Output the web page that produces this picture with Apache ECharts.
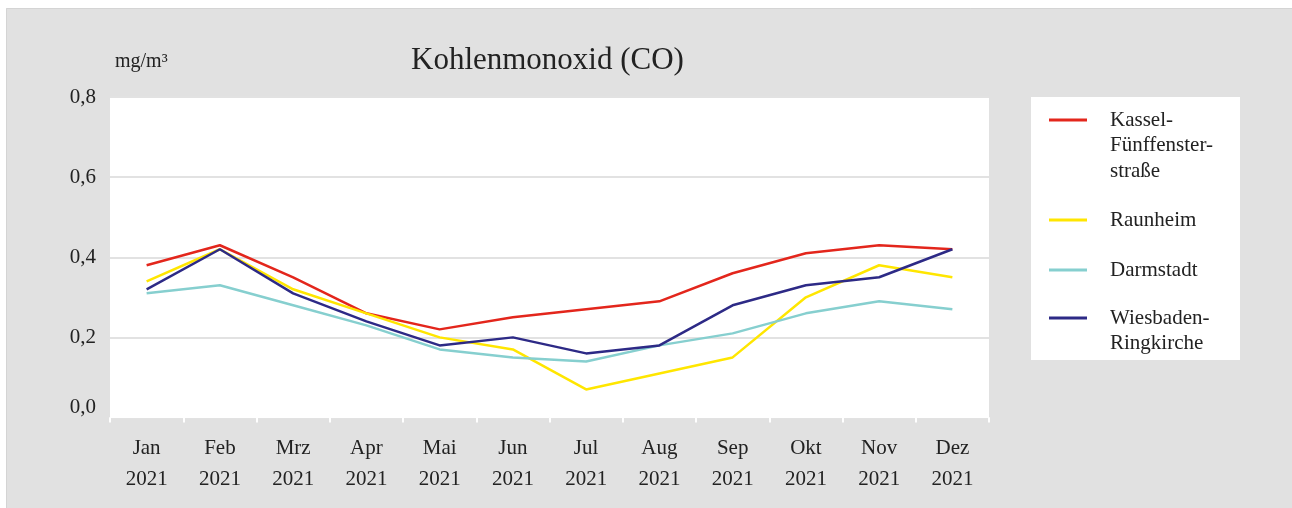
<!DOCTYPE html>
<html>
<head>
<meta charset="utf-8">
<script src="https://cdn.jsdelivr.net/npm/echarts@6/dist/echarts.min.js"></script>
<style>
html,body{margin:0;padding:0;background:#fff;}
#c{width:1292px;height:508px;}
</style>
</head>
<body>
<div id="c"></div>
<script>
var months = ['Jan','Feb','Mrz','Apr','Mai','Jun','Jul','Aug','Sep','Okt','Nov','Dez'];
var year = '2021';
var kassel = [0.38,0.43,0.35,0.26,0.22,0.25,0.27,0.29,0.36,0.41,0.43,0.42];
var raunheim = [0.34,0.42,0.32,0.26,0.20,0.17,0.07,0.11,0.15,0.30,0.38,0.35];
var darmstadt = [0.31,0.33,0.28,0.23,0.17,0.15,0.14,0.18,0.21,0.26,0.29,0.27];
var wiesbaden = [0.32,0.42,0.31,0.24,0.18,0.20,0.16,0.18,0.28,0.33,0.35,0.42];
var seriesNames = ['Kassel-Fünffensterstraße','Raunheim','Darmstadt','Wiesbaden-Ringkirche'];
var legendLabels = ['Kassel-\nFünffenster-\nstraße','Raunheim','Darmstadt','Wiesbaden-\nRingkirche'];
var colors = ['#e3261c','#ffe600','#86cfcf','#2d2a86'];
var seriesData = [kassel, raunheim, darmstadt, wiesbaden];

var FONT = 'Liberation Serif';
var categories = months.map(function(m){ return m + '\n' + year; });

var LH = 25.5;
var legendCenters = [120, 220, 270, 318];
var legends = seriesNames.map(function(n, i){
  var lines = legendLabels[i].split('\n').length;
  // leading blank lines so that the first text line sits at the icon's height
  var lead = new Array(lines).join('\n');
  var blockH = (2 * lines - 1) * LH;
  return {
    data: [n],
    orient: 'vertical',
    left: 1049,
    top: legendCenters[i] - blockH / 2,
    padding: 0,
    icon: 'rect',
    itemWidth: 38,
    itemHeight: 3,
    selectedMode: false,
    formatter: function(){ return lead + legendLabels[i]; },
    textStyle: {fontFamily: FONT, fontSize: 21, color: '#222', lineHeight: LH, padding: [0, 0, 0, 18]}
  };
});

var chart = echarts.init(document.getElementById('c'));
chart.setOption({
  backgroundColor: '#e1e1e1',
  animation: false,
  title: {
    text: 'Kohlenmonoxid (CO)',
    left: 411, top: 45, padding: 0,
    textStyle: {fontFamily: FONT, fontSize: 31, fontWeight: 'normal', color: '#222'}
  },
  graphic: [
    {type: 'rect', shape: {x: 0, y: 0, width: 1292, height: 8}, style: {fill: '#fff'}},
    {type: 'rect', shape: {x: 0, y: 0, width: 6, height: 508}, style: {fill: '#fff'}},
    {type: 'line', shape: {x1: 6.5, y1: 8.5, x2: 1292, y2: 8.5}, style: {stroke: '#d4d4d4', lineWidth: 1}},
    {type: 'line', shape: {x1: 6.5, y1: 8.5, x2: 6.5, y2: 508}, style: {stroke: '#d4d4d4', lineWidth: 1}},
    {type: 'rect', shape: {x: 1031, y: 97, width: 209, height: 263}, style: {fill: '#fff'}}
  ],
  legend: legends,
  grid: {left: 110, right: 303, top: 97, bottom: 90.5, show: true, backgroundColor: '#fff', borderWidth: 0, containLabel: false},
  xAxis: {
    type: 'category',
    data: categories,
    boundaryGap: true,
    axisLine: {show: true, lineStyle: {color: '#fff', width: 1}},
    axisTick: {show: true, length: 5, lineStyle: {color: '#fff', width: 2}},
    axisLabel: {fontFamily: FONT, fontSize: 21, color: '#222', lineHeight: 31, margin: 15, interval: 0}
  },
  yAxis: {
    type: 'value',
    min: 0, max: 0.8, interval: 0.2,
    name: 'mg/m³',
    nameLocation: 'end',
    nameGap: 35,
    nameTextStyle: {fontFamily: FONT, fontSize: 20, color: '#222', align: 'left', verticalAlign: 'middle', padding: [0, 0, 0, 5]},
    axisLine: {show: false},
    axisTick: {show: false},
    splitLine: {show: true, lineStyle: {color: '#e2e2e2', width: 2}},
    axisLabel: {
      fontFamily: FONT, fontSize: 21, color: '#222', margin: 14,
      verticalAlignMinLabel: 'bottom',
      formatter: function(v){ return v.toFixed(1).replace('.', ','); }
    }
  },
  series: seriesNames.map(function(n, i){
    return {
      name: n, type: 'line', data: seriesData[i], symbol: 'none',
      lineStyle: {color: colors[i], width: 2.5}, itemStyle: {color: colors[i]}
    };
  })
});
</script>
</body>
</html>
